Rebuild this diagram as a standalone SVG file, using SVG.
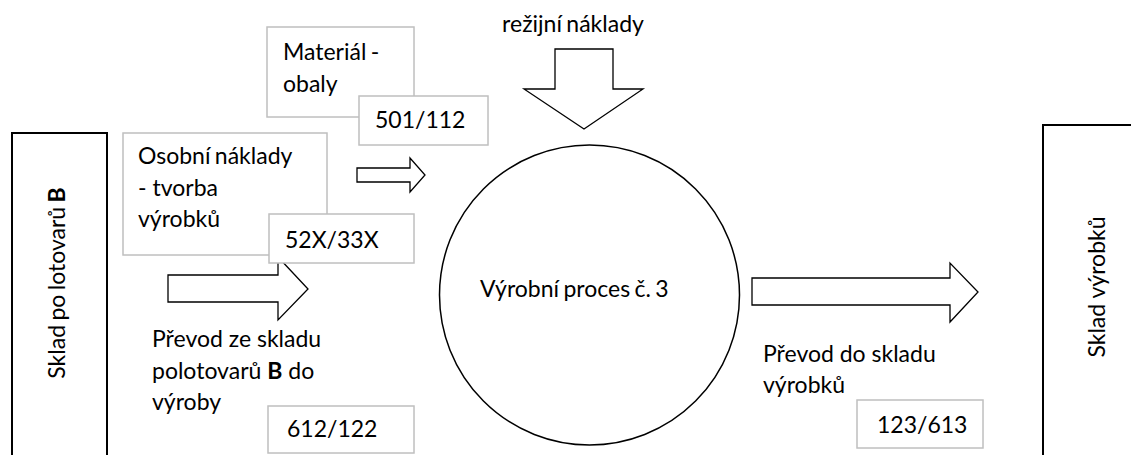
<svg xmlns="http://www.w3.org/2000/svg" width="1131" height="455" viewBox="0 0 1131 455">
  <style>
    text { font-family: "Lato", "Liberation Sans", sans-serif; font-size: 23px; fill: #000; }
    .tight { word-spacing: -1.5px; }
    .store { fill: #fff; stroke: #000; stroke-width: 2; }
    .tag { fill: #fff; stroke: #bfbfbf; stroke-width: 1.5; }
    .flow { fill: #fff; stroke: #000; stroke-width: 1.3; stroke-linejoin: miter; }
    .proc { fill: #fff; stroke: #000; stroke-width: 1.5; }
  </style>
  <rect width="1131" height="455" fill="#fff"/>

  <!-- semi-finished goods store -->
  <g id="sklad-polotovaru">
    <rect class="store" x="12" y="133" width="95" height="340"/>
    <text class="tight" transform="translate(65,283) rotate(-90)" text-anchor="middle">Sklad po lotovarů <tspan font-weight="bold">B</tspan></text>
  </g>

  <!-- finished goods store -->
  <g id="sklad-vyrobku">
    <rect class="store" x="1043" y="125" width="110" height="350"/>
    <text transform="translate(1105,287) rotate(-90)" text-anchor="middle">Sklad výrobků</text>
  </g>

  <!-- flows (block arrows) -->
  <g id="connectors">
    <polygon class="flow" points="555,49 613,49 613,89 643,89 584,129 524,89 555,89"/>
    <polygon class="flow" points="357,168 410,168 410,158 425,175 410,192 410,182 357,182"/>
    <polygon class="flow" points="168,275 278,275 278,257 308,289 278,320 278,302 168,302"/>
    <polygon class="flow" points="752,278 950,278 950,263 978,292 950,322 950,305 752,305"/>
  </g>

  <g id="rezijni-naklady">
    <text class="tight" x="573" y="32" text-anchor="middle">režijní náklady</text>
  </g>

  <g id="material">
    <rect class="tag" x="267" y="27" width="147" height="90"/>
    <text class="tight" x="283" y="60">Materiál -</text>
    <text x="283" y="92">obaly</text>
  </g>
  <g id="material-ucet">
    <rect class="tag" x="359" y="96" width="129" height="49"/>
    <text x="375" y="128">501/112</text>
  </g>

  <g id="osobni-naklady">
    <rect class="tag" x="123" y="133" width="204" height="122"/>
    <text class="tight" x="138" y="164">Osobní náklady</text>
    <text x="138" y="196">- tvorba</text>
    <text x="138" y="227">výrobků</text>
  </g>
  <g id="osobni-ucet">
    <rect class="tag" x="269" y="214" width="145" height="49"/>
    <text x="285" y="248">52X/33X</text>
  </g>

  <g id="prevod-do-vyroby">
    <text x="152" y="347">Převod ze skladu</text>
    <text x="152" y="379">polotovarů <tspan font-weight="bold">B</tspan> do</text>
    <text x="152" y="410">výroby</text>
  </g>
  <g id="prevod-do-vyroby-ucet">
    <rect class="tag" x="268" y="406" width="146" height="47"/>
    <text x="287" y="437">612/122</text>
  </g>

  <g id="vyrobni-proces">
    <circle class="proc" cx="589.5" cy="295" r="150"/>
    <text class="tight" x="480" y="297">Výrobní proces č. 3</text>
  </g>

  <g id="prevod-do-skladu">
    <text x="763" y="362">Převod do skladu</text>
    <text x="763" y="393">výrobků</text>
  </g>
  <g id="prevod-do-skladu-ucet">
    <rect class="tag" x="857" y="400" width="126" height="48"/>
    <text x="877" y="433">123/613</text>
  </g>
</svg>
